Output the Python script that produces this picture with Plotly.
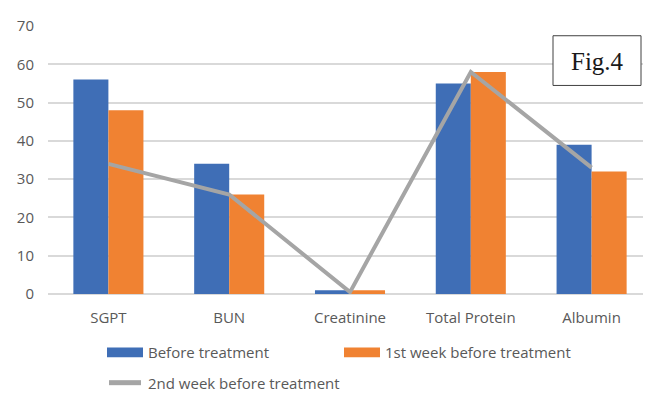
import plotly.graph_objects as go

categories = ["SGPT", "BUN", "Creatinine", "Total Protein", "Albumin"]
before = [56, 34, 1, 55, 39]
week1 = [48, 26, 1, 58, 32]
week2 = [34, 26, 0.5, 58, 33]
series_names = ["Before treatment", "1st week before treatment", "2nd week before treatment"]
y_ticks = [0, 10, 20, 30, 40, 50, 60, 70]

BLUE = "#3F6EB6"
ORANGE = "#F08232"
GRAY = "#A5A5A5"
TXT = "#595959"
FONT = "Open Sans"

# page body has an 8px default margin; positions below are given in window pixels
OFF = 8
W, H = 651, 396
ML, MR, MT, MB = 48 - OFF, 7, 19 - OFF, 110
PW, PH = W - ML - MR, H - MT - MB


def px(x):
    return (x - OFF - ML) / PW


def py(y):
    return (H - MB - (y - OFF)) / PH


fig = go.Figure()
fig.add_trace(go.Bar(x=categories, y=before, name=series_names[0], marker=dict(color=BLUE, line=dict(width=0))))
fig.add_trace(go.Bar(x=categories, y=week1, name=series_names[1], marker=dict(color=ORANGE, line=dict(width=0))))
fig.add_trace(go.Scatter(x=categories, y=week2, name=series_names[2], mode="lines",
                         line=dict(color=GRAY, width=4)))

shapes = []
annotations = []


def legend_bar(x0, x1, yc, color, text):
    shapes.append(dict(type="rect", xref="paper", yref="paper", x0=px(x0), x1=px(x1),
                       y0=py(yc + 5), y1=py(yc - 5), fillcolor=color, line=dict(width=0)))
    annotations.append(dict(xref="paper", yref="paper", x=px(x1 + 3), y=py(yc), text=text,
                            showarrow=False, xanchor="left", yanchor="middle",
                            font=dict(family=FONT, size=15, color=TXT)))


legend_bar(107, 143, 354, BLUE, series_names[0])
legend_bar(344, 380, 354, ORANGE, series_names[1])
shapes.append(dict(type="line", xref="paper", yref="paper", x0=px(109), x1=px(141),
                   y0=py(385), y1=py(385), line=dict(color=GRAY, width=5)))
annotations.append(dict(xref="paper", yref="paper", x=px(146), y=py(385), text=series_names[2],
                        showarrow=False, xanchor="left", yanchor="middle",
                        font=dict(family=FONT, size=15, color=TXT)))

# Fig.4 box
shapes.append(dict(type="rect", xref="paper", yref="paper", x0=px(553), x1=px(641),
                   y0=py(80), y1=py(29), fillcolor="white", line=dict(color="#404040", width=1)))
annotations.append(dict(xref="paper", yref="paper", x=px(597), y=py(55), text="Fig.4",
                        showarrow=False, xanchor="center", yanchor="middle",
                        font=dict(family="Liberation Serif", size=25, color="#1a1a1a")))

fig.update_layout(
    width=W, height=H,
    margin=dict(l=ML, r=MR, t=MT, b=MB),
    paper_bgcolor="white", plot_bgcolor="white",
    barmode="group", bargap=0.42, bargroupgap=0,
    showlegend=False,
    shapes=shapes, annotations=annotations,
    font=dict(family=FONT, size=15, color=TXT),
    xaxis=dict(showgrid=False, showline=False, zeroline=False, ticks="",
               tickfont=dict(family=FONT, size=15, color=TXT), ticklabelstandoff=13),
    yaxis=dict(range=[0, 70], tickvals=y_ticks, showgrid=True, gridcolor="#D9D9D9", gridwidth=1.5,
               zeroline=True, zerolinecolor="#D9D9D9", zerolinewidth=1.5, showline=False,
               tickfont=dict(family=FONT, size=15, color=TXT), ticklabelstandoff=13),
)

fig.write_html("out.html")
